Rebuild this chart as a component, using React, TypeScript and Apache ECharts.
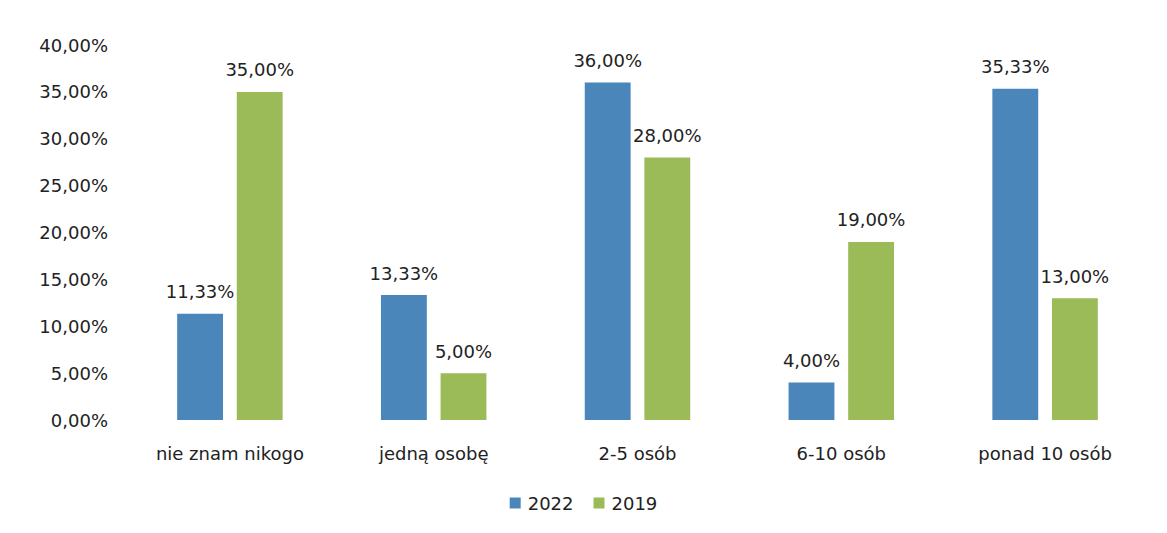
import React, { useEffect, useRef } from "react";
import * as echarts from "echarts";

const categories = ["nie znam nikogo", "jedną osobę", "2-5 osób", "6-10 osób", "ponad 10 osób"];
const values2022 = [11.33, 13.33, 36.0, 4.0, 35.33];
const values2019 = [35.0, 5.0, 28.0, 19.0, 13.0];
const seriesNames = ["2022", "2019"];

const fmt = (v: number) => v.toFixed(2).replace(".", ",") + "%";

export default function App() {
  const ref = useRef<HTMLDivElement>(null);
  useEffect(() => {
    if (!ref.current) return;
    const chart = echarts.init(ref.current, null, { renderer: "svg" });
    const font = "'DejaVu Sans', 'Noto Sans', sans-serif";
    const labelStyle = {
      show: true,
      position: "top" as const,
      distance: 13,
      color: "#222",
      fontSize: 18,
      fontFamily: font,
      formatter: (p: any) => fmt(p.value),
    };
    chart.setOption({
      animation: false,
      backgroundColor: "#ffffff",
      grid: { left: 120, right: 12, top: 37, bottom: 105, containLabel: false },
      legend: {
        data: seriesNames,
        bottom: 8,
        left: "center",
        itemWidth: 11,
        itemHeight: 11,
        itemGap: 20,
        icon: "rect",
        textStyle: { fontSize: 18, color: "#222", fontFamily: font, padding: [0, 0, 0, 2] },
      },
      xAxis: {
        type: "category",
        data: categories,
        axisLine: { show: false },
        axisTick: { show: false },
        axisLabel: { fontSize: 18, color: "#222", fontFamily: font, margin: 24 },
      },
      yAxis: {
        type: "value",
        min: 0,
        max: 40,
        interval: 5,
        axisLine: { show: false },
        axisTick: { show: false },
        splitLine: { show: false },
        axisLabel: {
          fontSize: 18,
          color: "#222",
          fontFamily: font,
          margin: 20,
          formatter: (v: number) => fmt(v),
        },
      },
      series: [
        {
          name: seriesNames[0],
          type: "bar",
          data: values2022,
          barWidth: "22.5%",
          barGap: "30%",
          itemStyle: { color: "#4A86BA" },
          label: labelStyle,
        },
        {
          name: seriesNames[1],
          type: "bar",
          data: values2019,
          barWidth: "22.5%",
          itemStyle: { color: "#9BBB59" },
          label: labelStyle,
        },
      ],
    });
    return () => chart.dispose();
  }, []);
  return <div ref={ref} style={{ width: 1151, height: 517 }} />;
}
